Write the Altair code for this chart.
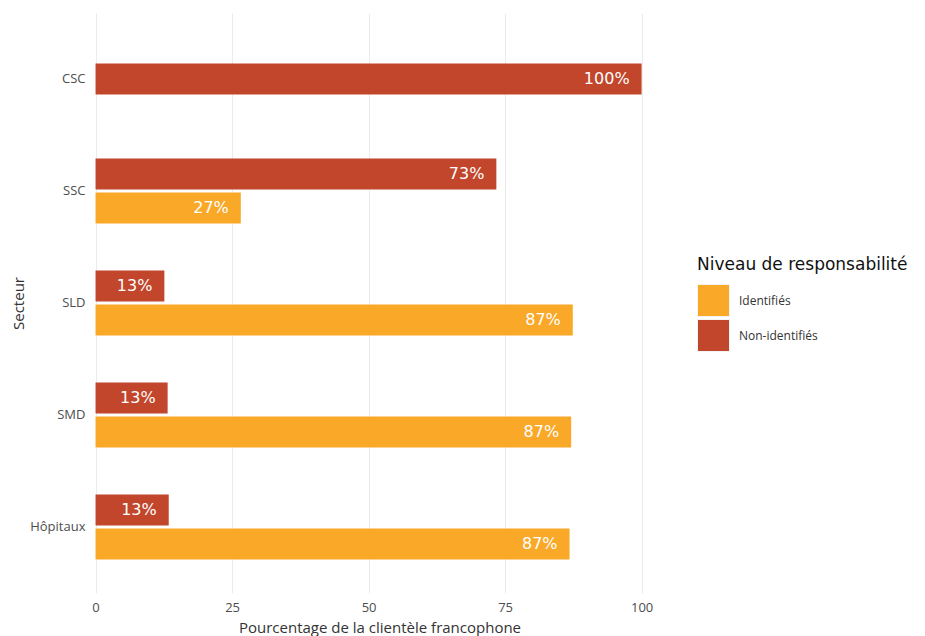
import altair as alt
import pandas as pd

categories = ["CSC", "SSC", "SLD", "SMD", "Hôpitaux"]
identifies = [None, 26.6, 87.4, 87.1, 86.8]
non_identifies = [100.0, 73.4, 12.6, 13.2, 13.4]
series = ["Identifiés", "Non-identifiés"]
colors = ["#F9A828", "#C1462B"]

rows = []
for cat, a, b in zip(categories, identifies, non_identifies):
    n = sum(v is not None for v in (a, b))
    for name, v in zip(series, (a, b)):
        if v is not None:
            rows.append({"Secteur": cat, "Niveau": name, "Pct": v,
                         "Label": f"{round(v)}%", "single": n == 1})
df = pd.DataFrame(rows)

FONT = "Open Sans"

y_enc = alt.Y("Secteur:N", sort=categories,
              scale=alt.Scale(domain=categories, paddingInner=0.42, paddingOuter=0.3),
              axis=alt.Axis(title="Secteur", labelFont=FONT, labelFontSize=13,
                            labelColor="#4d4d4d", labelPadding=4, ticks=False,
                            domain=False, grid=False, titleFont=FONT,
                            titleFontSize=15, titleFontWeight="normal",
                            titleColor="#333333", titleX=-71, titleY=290,
                            titleAngle=-90, titleAlign="center",
                            titleBaseline="middle"))
x_enc = alt.X("Pct:Q", scale=alt.Scale(domain=[-1.2, 105.2], nice=False, zero=False),
              axis=alt.Axis(title="Pourcentage de la clientèle francophone",
                            values=[0, 25, 50, 75, 100], labelFont=FONT,
                            labelFontSize=13, labelColor="#4d4d4d", labelPadding=8,
                            ticks=False, domain=False, gridColor="#ebebeb",
                            gridWidth=1, titleFont=FONT, titleFontSize=15,
                            titleFontWeight="normal", titleColor="#333333",
                            titlePadding=6))
yoff = alt.YOffset("Niveau:N", sort=["Non-identifiés", "Identifiés"],
                   scale=alt.Scale(domain=["Non-identifiés", "Identifiés"],
                                   paddingInner=0.09, paddingOuter=0))
color_enc = alt.Color("Niveau:N",
                      scale=alt.Scale(domain=series, range=colors),
                      legend=alt.Legend(title="Niveau de responsabilité",
                                        orient="none", legendX=608, legendY=244,
                                        symbolType="square", symbolSize=1024,
                                        symbolStrokeColor="#f4f4f4",
                                        symbolStrokeWidth=1, symbolOpacity=1,
                                        labelFont=FONT, labelFontSize=12,
                                        labelColor="#333333", labelOffset=9,
                                        titleFont="DejaVu Sans", titleFontSize=17,
                                        titleFontWeight="normal", titleLimit=400,
                                        titleColor="#111111", titlePadding=10,
                                        rowPadding=-6))

base = alt.Chart(df)
pair = base.transform_filter("!datum.single")
single = base.transform_filter("datum.single")

bars_pair = pair.mark_bar().encode(
    x=x_enc, x2=alt.datum(0), y=y_enc, yOffset=yoff, color=color_enc)
bars_single = single.mark_bar(size=31).encode(
    x=x_enc, x2=alt.datum(0), y=y_enc, color=color_enc)

text_style = dict(align="right", baseline="middle", dx=-12, color="white",
                  font="DejaVu Sans", fontSize=16)
text_pair = pair.mark_text(**text_style).encode(
    x=x_enc, y=y_enc, yOffset=yoff, text="Label:N")
text_single = single.mark_text(**text_style).encode(
    x=x_enc, y=y_enc, text="Label:N")

chart = alt.layer(bars_pair, bars_single, text_pair, text_single).properties(
    width=581, height=580,
    padding={"left": 3, "top": 5, "right": 5, "bottom": 5},
).configure_view(stroke=None)

chart.save("out.html", embed_options={"renderer": "svg", "actions": False})
